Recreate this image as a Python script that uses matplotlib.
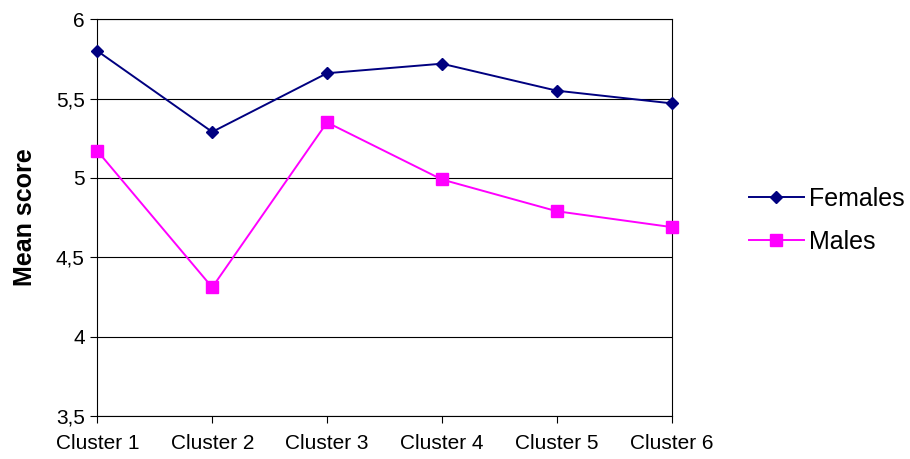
import matplotlib.pyplot as plt

plt.rcParams['font.family'] = ['Liberation Sans', 'DejaVu Sans']

clusters = ['Cluster 1', 'Cluster 2', 'Cluster 3', 'Cluster 4', 'Cluster 5', 'Cluster 6']
females = [5.80, 5.29, 5.66, 5.72, 5.55, 5.47]
males = [5.17, 4.31, 5.35, 4.99, 4.79, 4.69]
y_ticks = [3.5, 4, 4.5, 5, 5.5, 6]
y_labels = ['3,5', '4', '4,5', '5', '5,5', '6']

fig = plt.figure(figsize=(9.1, 4.59), dpi=100)
ax = fig.add_axes([0.107, 0.094, 0.631, 0.864])

x = range(len(clusters))
ax.plot(x, females, color='#000080', lw=1.4, marker='D', ms=6.2, label='Females',
        zorder=5, clip_on=False)
ax.plot(x, males, color='#FF00FF', lw=1.4, marker='s', ms=9.2, label='Males',
        zorder=5, clip_on=False)

ax.set_xlim(0, len(clusters) - 1)
ax.set_ylim(3.5, 6)
ax.set_xticks(list(x))
ax.set_xticklabels(clusters, fontsize=15)
ax.set_yticks(y_ticks)
ax.set_yticklabels(y_labels, fontsize=15)
ax.yaxis.grid(True, color='black', lw=0.8)
ax.set_axisbelow(True)
ax.tick_params(axis='both', direction='out', length=5, width=0.8)
ax.tick_params(axis='x', pad=8)
ax.tick_params(axis='y', pad=4)

for s in ax.spines.values():
    s.set_linewidth(0.8)
    s.set_color('black')

ax.set_ylabel('Mean score', fontsize=18, fontweight='bold', labelpad=14)

fig.legend(loc='center left', bbox_to_anchor=(0.812, 0.52), frameon=False,
           fontsize=18, handlelength=2.2, handletextpad=0.2, labelspacing=0.75,
           borderaxespad=0)

fig.savefig('out.png', dpi=100)
